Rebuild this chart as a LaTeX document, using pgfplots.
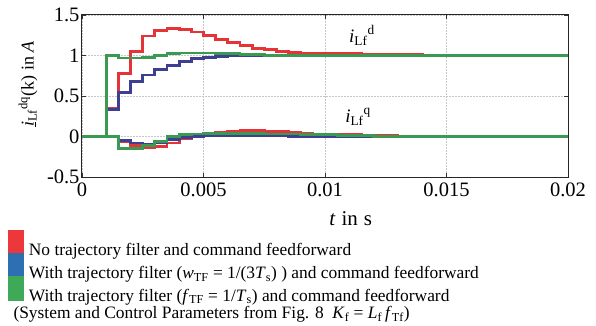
\documentclass[border=0pt]{standalone}
\usepackage{pgfplots}
\pgfplotsset{compat=1.18}
\usepackage{pgfplotstable}
\usepackage{fontspec}
\setmainfont{Liberation Serif}

\definecolor{cred}{RGB}{228,52,56}
\definecolor{cblue}{RGB}{62,62,146}
\definecolor{cgreen}{RGB}{58,154,82}
\definecolor{lred}{RGB}{236,56,58}
\definecolor{lblue}{RGB}{46,110,178}
\definecolor{lgreen}{RGB}{62,170,88}

\newcommand\tickfont{\fontsize{20.5bp}{24bp}\selectfont}
\newcommand\legfont{\fontsize{17.4bp}{20bp}\selectfont}
\newcommand\iLf[1]{\textit{i}\textsubscript{Lf}\textsuperscript{#1}}

% step responses: t in s, d- and q-components of the filter current
% rd/rq: no trajectory filter, bd/bq: w_TF = 1/(3Ts), gd/gq: f_TF = 1/Ts
\pgfplotstableread{
t       rd    bd    gd    rq     bq     gq
0.0000  0.00  0.00  0.00  0.00   0.00   0.00
0.0010  0.35  0.33  1.00  0.00   0.00   0.00
0.0015  0.78  0.54  0.97 -0.06  -0.05  -0.15
0.0020  1.05  0.68  0.97 -0.11  -0.08  -0.15
0.0025  1.24  0.76  0.98 -0.14  -0.10  -0.11
0.0030  1.31  0.83  1.00 -0.12  -0.08  -0.06
0.0035  1.33  0.88  1.02 -0.08  -0.04   0.00
0.0040  1.32  0.93  1.03 -0.02  -0.01   0.02
0.0045  1.29  0.96  1.03  0.01   0.00   0.03
0.0050  1.25  0.98  1.03  0.03   0.01   0.04
0.0055  1.20  0.99  1.02  0.05   0.01   0.04
0.0060  1.16  1.00  1.02  0.06   0.01   0.04
0.0065  1.12  1.00  1.01  0.07   0.01   0.04
0.0070  1.09  1.00  1.01  0.07   0.01   0.04
0.0075  1.07  1.00  1.00  0.06   0.01   0.03
0.0080  1.05  1.00  1.00  0.06   0.01   0.03
0.0085  1.04  1.00  1.00  0.05   0.00   0.03
0.0090  1.03  1.00  1.00  0.04   0.00   0.02
0.0095  1.03  1.00  1.00  0.03   0.00   0.02
0.0100  1.02  1.00  1.00  0.03   0.00   0.02
0.0105  1.02  1.00  1.00  0.02   0.00   0.01
0.0110  1.02  1.00  1.00  0.02   0.00   0.01
0.0115  1.01  1.00  1.00  0.01   0.00   0.01
0.0120  1.01  1.00  1.00  0.01   0.00   0.00
0.0130  1.01  1.00  1.00  0.00   0.00   0.00
0.0140  1.00  1.00  1.00  0.00   0.00   0.00
0.0200  1.00  1.00  1.00  0.00   0.00   0.00
}\steps

\begin{document}
\begin{tikzpicture}
\begin{axis}[
  scale only axis,
  width=486bp, height=162bp,
  xmin=0, xmax=0.02, ymin=-0.5, ymax=1.5,
  xtick={0,0.005,0.01,0.015,0.02},
  ytick={-0.5,0,0.5,1,1.5},
  scaled x ticks=false,
  xticklabel={\pgfmathprintnumber[fixed,precision=3,assume math mode=true]{\tick}},
  yticklabel={\pgfmathprintnumber[fixed,precision=1,assume math mode=true]{\tick}},
  tick label style={font=\tickfont},
  xticklabel style={yshift=-2bp},
  yticklabel style={xshift=1bp},
  tick align=inside,
  major tick length=4bp,
  tick style={black!80, line width=0.8bp},
  axis line style={black!85, line width=1bp},
  grid=major,
  grid style={black!22, line width=0.5bp, densely dotted},
  every axis x label/.style={at={(axis description cs:0.553,0)}, anchor=base, yshift=-48bp,
    font=\fontsize{21bp}{24bp}\selectfont},
  xlabel={\textit{t}\hspace{6bp}in\hspace{6bp}s},
  every axis y label/.style={at={(axis description cs:-0.111,0.574)}, rotate=90, anchor=center,
    font=\fontsize{18bp}{21bp}\selectfont},
  ylabel={\underline{\textit{i}}\textsubscript{Lf}\textsuperscript{dq}(k) in \textit{A}},
  legend style={at={(axis description cs:-0.152,-0.327)}, anchor=north west,
    draw=none, fill=none, inner sep=0pt, outer sep=0pt,
    row sep=-4.5bp, column sep=5bp,
    nodes={inner sep=0pt, outer sep=0pt}, font=\legfont},
  legend cell align=left,
  every axis plot/.append style={const plot, line width=2.8bp, line join=miter},
  clip=true,
]
\addplot[cred, forget plot] table[x=t, y=rd] {\steps};
\addplot[cred, forget plot] table[x=t, y=rq] {\steps};
\addplot[cblue, forget plot] table[x=t, y=bd] {\steps};
\addplot[cblue, forget plot] table[x=t, y=bq] {\steps};
\addplot[cgreen, forget plot] table[x=t, y=gd] {\steps};
\addplot[cgreen, forget plot] table[x=t, y=gq] {\steps};

\addlegendimage{legend image code/.code={\fill[lred] (0bp,-4bp) rectangle (13bp,19bp);}}
\addlegendentry{No trajectory filter and command feedforward}
\addlegendimage{legend image code/.code={\fill[lblue] (0bp,-4bp) rectangle (13bp,19bp);}}
\addlegendentry{With trajectory filter (\textit{w}\textsubscript{TF} = 1/(3\textit{T}\textsubscript{s}) ) and command feedforward}
\addlegendimage{legend image code/.code={\fill[lgreen] (0bp,-4bp) rectangle (13bp,19bp);}}
\addlegendentry{With trajectory filter (\textit{f}\textsubscript{TF} = 1/\textit{T}\textsubscript{s}) and command feedforward}

\node[font=\fontsize{19bp}{21bp}\selectfont] at (axis cs:0.01152,1.25) {\iLf{d}};
\node[font=\fontsize{19bp}{21bp}\selectfont] at (axis cs:0.01136,0.24) {\iLf{q}};

\coordinate (bl) at (rel axis cs:0,0);
\end{axis}
\node[anchor=base west, font=\legfont] at ([xshift=-72bp, yshift=-141.5bp]bl)
  {(System and Control Parameters from Fig. 8\ \ \textit{K}\textsubscript{f} = \textit{L}\textsubscript{f}\,\textit{f}\textsubscript{Tf})};
\path ([xshift=-82bp, yshift=-149bp]bl) rectangle ++(596bp,326bp);
\end{tikzpicture}
\end{document}
